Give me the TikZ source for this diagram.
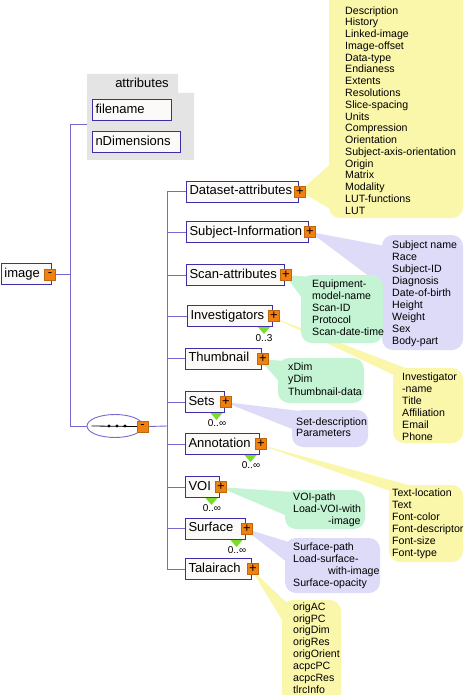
\documentclass[tikz,border=0pt]{standalone}
\usepackage{fontspec}
\setmainfont{Liberation Sans}
\usetikzlibrary{shapes.geometric}
\definecolor{cyel}{RGB}{250,246,170}
\definecolor{clav}{RGB}{221,219,248}
\definecolor{cgrn}{RGB}{196,244,212}
\definecolor{cgry}{RGB}{228,228,228}
\definecolor{boxc}{RGB}{62,46,165}
\definecolor{linec}{RGB}{118,104,204}
\definecolor{orng}{RGB}{240,128,16}
\definecolor{trig}{RGB}{120,222,40}
\definecolor{boxf}{RGB}{252,249,249}
\pgfdeclarelayer{bg}
\pgfsetlayers{bg,main}
\begin{document}
\begin{tikzpicture}[x=1pt,y=-1pt,
  box/.style={draw=boxc, line width=1pt, fill=boxf, anchor=west, inner xsep=3pt, inner ysep=0pt,
    minimum height=21pt, text height=9.5pt, text depth=2.6pt, align=left,
    font=\fontsize{13}{15}\selectfont},
  plusbox/.style={fill=orng, draw=orng!80!black, line width=0.3pt, minimum size=11pt, inner sep=0pt,
    font=\fontsize{13}{13}\selectfont},
  conn/.style={draw=linec, line width=0.9pt},
  ctext/.style={anchor=north west, inner sep=0pt, align=left, font=\fontsize{10.6}{12}\selectfont},
  mult/.style={inner sep=0pt, font=\fontsize{10}{11}\selectfont},
  tri/.style={fill=trig}]
\useasboundingbox (0,0) rectangle (464,695);

% ---------- callouts ----------
\begin{pgfonlayer}{bg}
\fill[white] (0,0) rectangle (464,695);
% yellow
\fill[cyel, rounded corners=11pt] (329,-12) rectangle (463,218);
\fill[cyel] (300,191) -- (335,160) -- (335,212) -- cycle;
\fill[cyel, rounded corners=11pt] (393,368) rectangle (463,443);
\fill[cyel] (272,317) -- (396,376) -- (408,369) -- cycle;
\fill[cyel, rounded corners=11pt] (389,485) rectangle (463,562);
\fill[cyel] (258,444) -- (393,492) -- (412,486) -- cycle;
\fill[cyel, rounded corners=11pt] (282,600) rectangle (341,708);
\fill[cyel] (251,569) -- (287,603) -- (287,628) -- cycle;
% lavender
\fill[clav, rounded corners=11pt] (382,235) rectangle (463,350);
\fill[clav] (310,232) -- (390,247) -- (390,292) -- cycle;
\fill[clav, rounded corners=11pt] (292,410) rectangle (368,447);
\fill[clav] (224,402) -- (300,411) -- (300,432) -- cycle;
\fill[clav, rounded corners=11pt] (285,538) rectangle (380,593);
\fill[clav] (243,528) -- (292,543) -- (292,566) -- cycle;
% green
\fill[cgrn, rounded corners=11pt] (301,275) rectangle (383,343);
\fill[cgrn] (285,275) -- (312,277) -- (305,302) -- cycle;
\fill[cgrn, rounded corners=11pt] (278,358) rectangle (364,403);
\fill[cgrn] (259,359) -- (285,361) -- (285,388) -- cycle;
\fill[cgrn, rounded corners=11pt] (285,490) rectangle (365,529);
\fill[cgrn] (219,487) -- (292,492) -- (292,518) -- cycle;
% attributes panel
\fill[cgry] (87,74) -- (178,74) -- (178,93) -- (194,93) -- (194,160) -- (87,160) -- cycle;
\end{pgfonlayer}

\node[ctext, font=\fontsize{10.6}{11.76}\selectfont] (tda) at (345,6.3) {Description\\History\\Linked-image\\Image-offset\\Data-type\\Endianess\\Extents\\Resolutions\\Slice-spacing\\Units\\Compression\\Orientation\\Subject-axis-orientation\\Origin\\Matrix\\Modality\\LUT-functions\\LUT};
\node[ctext] (tsi) at (392,240.3) {Subject name\\Race\\Subject-ID\\Diagnosis\\Date-of-birth\\Height\\Weight\\Sex\\Body-part};
\node[ctext] (tsa) at (312,279.3) {Equipment-\\model-name\\Scan-ID\\Protocol\\Scan-date-time};
\node[ctext, font=\fontsize{10.6}{12.5}\selectfont] (tth) at (288,362.3) {xDim\\yDim\\Thumbnail-data};
\node[ctext] (tinv) at (402,372.3) {Investigator\\-name\\Title\\Affiliation\\Email\\Phone};
\node[ctext, font=\fontsize{10.6}{11.5}\selectfont] (tsets) at (296,417.3) {Set-description\\Parameters};
\node[ctext] (tann) at (392,488.3) {Text-location\\Text\\Font-color\\Font-descriptor\\Font-size\\Font-type};
\node[ctext] (tvoi) at (293,492.3) {VOI-path\\Load-VOI-with\\\hspace*{35pt}-image};
\node[ctext] (tsurf) at (293,542.3) {Surface-path\\Load-surface-\\\hspace*{35pt}with-image\\Surface-opacity};
\node[ctext, font=\fontsize{10.6}{11.9}\selectfont] (ttal) at (293,602.3) {origAC\\origPC\\origDim\\origRes\\origOrient\\acpcPC\\acpcRes\\tlrcInfo};

% ---------- attributes ----------
\node[inner sep=0pt, font=\fontsize{13}{15}\selectfont] (attr) at (142,83) {attributes};
\node[box, text width=73pt] (fn) at (92,110) {filename};
\node[box, text width=82pt] (nd) at (92,142.5) {nDimensions};

% ---------- image ----------
\node[box, text width=44pt] (img) at (1,274) {image};
\node[plusbox] (imgm) at (50,274.5) {-};

% ---------- sequence ----------
\node[draw=linec, line width=0.9pt, ellipse, minimum width=56pt, minimum height=23pt, inner sep=0pt] (seq) at (115,426) {};
\node[plusbox] (seqm) at (142.5,426.5) {-};
\draw[line width=0.8pt] (seq.west) ++(5,0) coordinate (sl) -- (seqm.west);
\foreach \dx in {109,117,125} \fill (\dx,426) circle (1.7pt);

% ---------- children ----------
\node[box, text width=106pt] (da) at (186,191.5) {Dataset-attributes};
\node[box, text width=116pt] (si) at (186,232) {Subject-Information};
\node[box, text width=92pt] (sa) at (186,275) {Scan-attributes};
\node[box, text width=79pt] (inv) at (187,316) {Investigators};
\node[box, text width=70pt] (th) at (185,358.5) {Thumbnail};
\node[box, text width=33pt] (sets) at (185,402) {Sets};
\node[box, text width=68pt] (ann) at (185,444) {Annotation};
\node[box, text width=28pt] (voi) at (185,487) {VOI};
\node[box, text width=54pt] (surf) at (185,528.5) {Surface};
\node[box, text width=60pt] (tal) at (185,569) {Talairach};

\foreach \n in {da,si,sa,inv,th,sets,ann,voi,surf,tal}
  \node[plusbox] (\n p) at ([xshift=1pt]\n.east) {+};

% multiplicity
\fill[tri] (258,327) -- (270,327) -- (264,334) -- cycle;
\node[mult] (minv) at (264,338) {0..3};
\fill[tri] (210.5,413) -- (222.5,413) -- (216.5,420) -- cycle;
\node[mult] (msets) at (217,423) {0..∞};
\fill[tri] (244.5,455) -- (256.5,455) -- (250.5,462) -- cycle;
\node[mult] (mann) at (251,465) {0..∞};
\fill[tri] (205.5,498) -- (217.5,498) -- (211.5,505) -- cycle;
\node[mult] (mvoi) at (212,508) {0..∞};
\fill[tri] (230.5,540) -- (242.5,540) -- (236.5,547) -- cycle;
\node[mult] (msurf) at (237,550) {0..∞};

% ---------- connectors ----------
\coordinate (ja) at (70,124);
\coordinate (jb) at (70,426);
\coordinate (jimg) at (70,274.5);
\coordinate (attrL) at (87,124);
\coordinate (jc) at (167,426);
\begin{pgfonlayer}{bg}
\draw[conn] (imgm.east) -- (jimg);
\draw[conn] (ja) -- (jb);
\draw[conn] (ja) -- (attrL);
\draw[conn] (jb) -- (seq.west);
\draw[conn] (seqm.east) -- (jc);
\draw[conn] (jc |- da.west) -- (jc |- tal.west);
\foreach \n in {da,si,sa,inv,th,sets,ann,voi,surf,tal}
  \draw[conn] (jc |- \n.west) -- (\n.west);
\end{pgfonlayer}
\end{tikzpicture}
\end{document}
